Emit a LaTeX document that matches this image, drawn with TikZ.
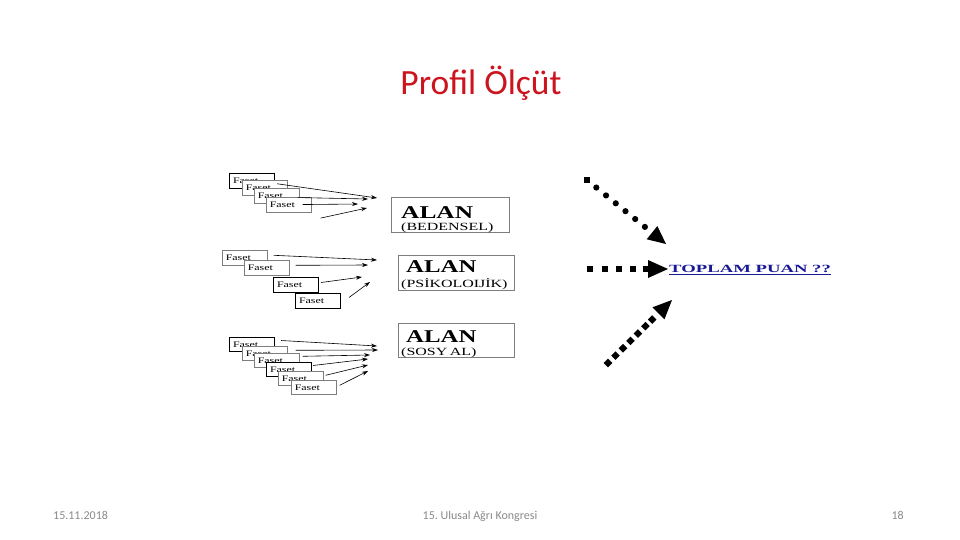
\documentclass[tikz,border=0pt]{standalone}
\usepackage{fontspec}
\setmainfont{Liberation Serif}
\newfontfamily\calib{Carlito}
\usetikzlibrary{calc,arrows.meta}
\definecolor{titlered}{RGB}{204,20,30}
\definecolor{footgray}{RGB}{137,137,137}
\definecolor{puanblue}{RGB}{25,25,150}
\definecolor{boxgray}{RGB}{125,125,125}
\begin{document}
\begin{tikzpicture}[x=1pt,y=-1pt,
  faset/.style={draw=boxgray, line width=0.6pt, fill=white, anchor=north west,
    text width=38pt, align=left, inner xsep=3.5pt, inner ysep=0pt,
    minimum height=#1, font=\fontsize{8.5}{8.5}\selectfont},
  faset/.default=14.5pt,
  fasetdark/.style={faset=#1, draw=black, line width=1pt},
  fasetdark/.default=14.5pt,
  farrow/.style={line width=0.6pt, -{Stealth[length=6pt,width=4pt]}},
  alanbox/.style={draw=boxgray, line width=0.8pt, anchor=north west, inner sep=0pt},
  alantxt/.style={anchor=base west, inner sep=0pt, font=\fontsize{18}{18}\selectfont\bfseries},
  subtxt/.style={anchor=base west, inner sep=0pt, font=\fontsize{11}{11}\selectfont},
  foot/.style={inner sep=0pt, text=footgray, font=\calib\fontsize{12}{12}\selectfont}
]
\useasboundingbox (0,0) rectangle (960,540);

% title
\node[anchor=base, inner sep=0pt, text=titlered, font=\calib\fontsize{35.5}{35.5}\selectfont] (title) at (481,95) {Profil Ölçüt};

% group 1
\node[fasetdark] (g1a) at (229,173) {\scalebox{1.4}[1]{Faset}};
\node[faset] (g1b) at (242,180) {\scalebox{1.4}[1]{Faset}};
\node[faset] (g1c) at (254,188) {\scalebox{1.4}[1]{Faset}};
\node[faset] (g1d) at (266,197) {\scalebox{1.4}[1]{Faset}};
\coordinate (t1a) at (377,198);
\coordinate (t1b) at (368,199);
\coordinate (t1c) at (358,204);
\coordinate (t1d) at (367,208);
\draw[farrow] ($(g1a.east)+(2,3)$) -- (t1a);
\draw[farrow] ($(g1c.east)+(-2,2)$) -- (t1b);
\draw[farrow] ($(g1d.east)+(-9,0)$) -- (t1c);
\draw[farrow] ($(g1d.south east)+(9,6)$) -- (t1d);

% group 2
\node[faset=15pt] (g2a) at (222,250) {\scalebox{1.4}[1]{Faset}};
\node[faset=15pt] (g2b) at (244,260) {\scalebox{1.4}[1]{Faset}};
\node[fasetdark=15pt] (g2c) at (273,277) {\scalebox{1.4}[1]{Faset}};
\node[fasetdark=15pt] (g2d) at (295,293) {\scalebox{1.4}[1]{Faset}};
\coordinate (t2a) at (377,260);
\coordinate (t2b) at (368,265);
\coordinate (t2c) at (362,277);
\coordinate (t2d) at (370,282);
\draw[farrow] ($(g2a.east)+(6,-2.5)$) -- (t2a);
\draw[farrow] ($(g2b.east)+(6,-2.5)$) -- (t2b);
\draw[farrow] ($(g2c.east)+(2,-2.5)$) -- (t2c);
\draw[farrow] ($(g2d.east)+(8,-3.5)$) -- (t2d);

% group 3
\node[fasetdark=14pt] (g3a) at (229,337) {\scalebox{1.4}[1]{Faset}};
\node[faset=14pt] (g3b) at (242,346) {\scalebox{1.4}[1]{Faset}};
\node[faset=14pt] (g3c) at (254,353) {\scalebox{1.4}[1]{Faset}};
\node[fasetdark=14pt] (g3d) at (266,362) {\scalebox{1.4}[1]{Faset}};
\node[faset=14pt] (g3e) at (278,371) {\scalebox{1.4}[1]{Faset}};
\node[faset=14pt] (g3f) at (291,380) {\scalebox{1.4}[1]{Faset}};
\coordinate (t3a) at (377,346);
\coordinate (t3b) at (378,350);
\coordinate (t3c) at (370,355);
\coordinate (t3d) at (368,359);
\coordinate (t3e) at (368,365);
\coordinate (t3f) at (368,371);
\draw[farrow] ($(g3a.east)+(6,-4)$) -- (t3a);
\draw[farrow] ($(g3b.east)+(8,-3)$) -- (t3b);
\draw[farrow] ($(g3c.east)+(3,-4)$) -- (t3c);
\draw[farrow] ($(g3d.east)+(1,-4)$) -- (t3d);
\draw[farrow] ($(g3e.east)+(2,-3)$) -- (t3e);
\draw[farrow] ($(g3f.east)+(3,-2)$) -- (t3f);

% ALAN boxes
\node[alanbox, minimum width=118pt, minimum height=35pt] (alan1) at (391,197) {};
\node[alantxt] (alan1t) at (401,218) {\scalebox{1.41}[1]{ALAN}};
\node[subtxt] (alan1s) at (401,230.5) {\scalebox{1.45}[1]{(BEDENSEL)}};
\node[alanbox, minimum width=116pt, minimum height=35pt] (alan2) at (398,255) {};
\node[alantxt] (alan2t) at (406,272) {\scalebox{1.38}[1]{ALAN}};
\node[subtxt] (alan2s) at (401,287) {\scalebox{1.45}[1]{(PSİKOLOIJİK)}};
\node[alanbox, minimum width=116pt, minimum height=34pt] (alan3) at (398,323) {};
\node[alantxt] (alan3t) at (406,342) {\scalebox{1.38}[1]{ALAN}};
\node[subtxt] (alan3s) at (401,355) {\scalebox{1.45}[1]{(SOSY\,AL)}};

% TOPLAM PUAN
\node[anchor=base west, inner sep=0pt, text=puanblue, font=\fontsize{11}{11}\selectfont\bfseries] (toplam) at (669,272) {\scalebox{1.7}[1]{TOPLAM PUAN ??}};
\draw[puanblue, line width=0.8pt] ($(toplam.base west)+(0,2.2)$) -- ($(toplam.base east)+(0,2.2)$);

% top dotted arrow (circles)
\coordinate (s1) at (587,180);
\coordinate (h1) at (666,244);
\coordinate (b1) at ($(h1)!18pt!(s1)$);
\fill ($(s1)+(-3,-3)$) rectangle ($(s1)+(3,3)$);
\foreach \d in {12,24.5,37,49.5,62,74.5} \fill ($(s1)!\d pt!(h1)$) circle (3.1);
\fill (h1) -- ($(b1)!8.5pt!90:(h1)$) -- ($(b1)!8.5pt!-90:(h1)$) -- cycle;

% middle dotted arrow (squares)
\coordinate (s2) at (590,269);
\coordinate (h2) at (668,269);
\coordinate (b2) at ($(h2)!20pt!(s2)$);
\foreach \x in {0,14.5,29,43,55.5} \fill ($(s2)+(\x-3,-3)$) rectangle ($(s2)+(\x+3,3)$);
\fill (h2) -- ($(b2)!9pt!90:(h2)$) -- ($(b2)!9pt!-90:(h2)$) -- cycle;

% bottom dotted arrow (diamonds)
\coordinate (s3) at (608,363);
\coordinate (h3) at (672,300);
\coordinate (b3) at ($(h3)!19pt!(s3)$);
\foreach \d in {0,10.5,21,31.5,42,52.5,62} \fill[shift={($(s3)!\d pt!(h3)$)}] (0,-4.3) -- (4.3,0) -- (0,4.3) -- (-4.3,0) -- cycle;
\fill (h3) -- ($(b3)!8.5pt!90:(h3)$) -- ($(b3)!8.5pt!-90:(h3)$) -- cycle;

% footer
\node[foot, anchor=base west] (date) at (53,519) {15.11.2018};
\node[foot, anchor=base] (conf) at (480,519) {15.\ Ulusal Ağrı Kongresi};
\node[foot, anchor=base east] (page) at (904,519) {18};
\end{tikzpicture}
\end{document}
